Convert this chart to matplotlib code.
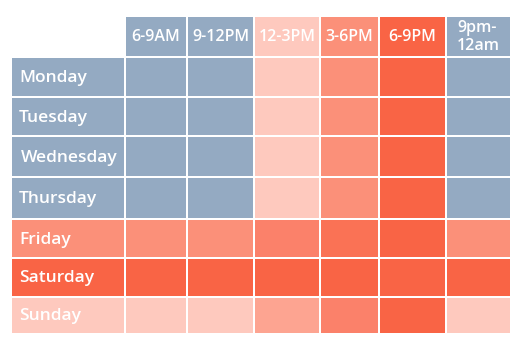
import matplotlib
matplotlib.use("Agg")
import matplotlib.pyplot as plt
import numpy as np
from matplotlib.colors import ListedColormap

# --- data ---
days = ["Monday", "Tuesday", "Wednesday", "Thursday", "Friday", "Saturday", "Sunday"]
slots = ["6-9AM", "9-12PM", "12-3PM", "3-6PM", "6-9PM", "9pm-\n12am"]
# activity level per cell: 0 = low (blue), 1..6 = increasing red intensity
slot_level = [0, 0, 1, 3, 6, 0]
day_level = [0, 0, 0, 0, 3, 6, 1]
monday = [0, 0, 1, 3, 6, 0]
tuesday = [0, 0, 1, 3, 6, 0]
wednesday = [0, 0, 1, 3, 6, 0]
thursday = [0, 0, 1, 3, 6, 0]
friday = [3, 3, 4, 5, 6, 3]
saturday = [6, 6, 6, 6, 6, 6]
sunday = [1, 1, 2, 4, 6, 1]

palette = ["#94AAC2", "#FEC9BE", "#FDA491", "#FB9079", "#FB816A", "#FA7255", "#F96445"]

# --- layout (pixel edges) ---
W, H = 520, 348
col_edges = [11, 125, 187, 254, 320, 379, 446, 511]
row_edges = [16, 57, 97, 136, 177, 219, 258, 297, 334]

grid_rows = [monday, tuesday, wednesday, thursday, friday, saturday, sunday]
M = np.full((8, 7), np.nan)
M[0, 1:] = slot_level
for i, r in enumerate(grid_rows):
    M[i + 1, 0] = day_level[i]
    M[i + 1, 1:] = r
Mm = np.ma.masked_invalid(M)

fig = plt.figure(figsize=(W / 100, H / 100), dpi=100)
ax = fig.add_axes([0, 0, 1, 1])
cmap = ListedColormap(palette)
ax.pcolormesh(col_edges, row_edges, Mm, cmap=cmap, vmin=-0.5, vmax=6.5,
              edgecolors="white", linewidth=1.3)
ax.set_xlim(0, W)
ax.set_ylim(H, 0)
ax.axis("off")

font = ["Open Sans", "DejaVu Sans"]
for j, s in enumerate(slots):
    cx = (col_edges[j + 1] + col_edges[j + 2]) / 2
    cy = (row_edges[0] + row_edges[1]) / 2 + 0.5
    ax.text(cx, cy, s, ha="center", va="center", color="white", fontsize=11.5,
            family=font, fontweight="semibold", multialignment="left", linespacing=1.1)
for i, d in enumerate(days):
    cy = (row_edges[i + 1] + row_edges[i + 2]) / 2 + 1
    ax.text(21 if d == "Wednesday" else 19, cy, d, ha="left", va="center", color="white",
            fontsize=12.5, family=font, fontweight="semibold")

fig.savefig("out.png", dpi=100, facecolor="white")
